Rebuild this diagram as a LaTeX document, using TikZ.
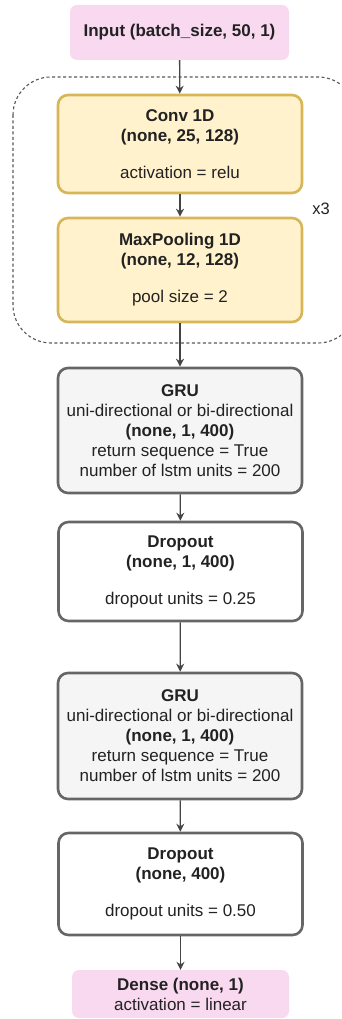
\documentclass[tikz,border=0pt]{standalone}
\usepackage{fontspec}
\setmainfont{Liberation Sans}
\usetikzlibrary{arrows.meta}
\definecolor{pinkfill}{HTML}{F9D9F0}
\definecolor{yelfill}{HTML}{FFF2CC}
\definecolor{yelline}{HTML}{D6B656}
\definecolor{greyfill}{HTML}{F5F5F5}
\definecolor{greyline}{HTML}{666666}
\definecolor{txt}{HTML}{222222}
\definecolor{arrowc}{HTML}{444444}
\tikzset{
  base/.style={rounded corners=10pt, align=center, inner sep=0pt, text=txt,
    font=\fontsize{17}{20}\selectfont},
  pinkbox/.style={base, fill=pinkfill, draw=none, rounded corners=7pt},
  yelbox/.style={base, fill=yelfill, draw=yelline, line width=2.6pt, minimum width=244pt},
  greybox/.style={base, fill=greyfill, draw=greyline, line width=2.6pt, minimum width=244pt},
  whitebox/.style={base, fill=white, draw=greyline, line width=2.6pt, minimum width=244pt},
  conn/.style={draw=arrowc, line width=1.3pt, -{Stealth[length=8pt,width=8pt]}},
  groupbox/.style={draw=arrowc!90, line width=1.1pt, dash pattern=on 3pt off 2.5pt, rounded corners=38pt}
}
\begin{document}
\begin{tikzpicture}[x=1pt,y=-1pt]
\useasboundingbox (0,0) rectangle (341,1019);
\begin{scope}
\clip (0,0) rectangle (341,1019);
\draw[groupbox] (13,77) rectangle (356,343);
\end{scope}
\node[pinkbox, minimum width=219pt, minimum height=55pt] (in) at (179.5,32.5) {\textbf{Input (batch\_size, 50, 1)}};
\node[yelbox, minimum height=98pt] (conv) at (180,144) {\textbf{Conv 1D}\\\textbf{(none, 25, 128)}\\[17pt]activation = relu};
\node[yelbox, minimum height=104pt] (pool) at (180,270) {\textbf{MaxPooling 1D}\\\textbf{(none, 12, 128)}\\[17pt]pool size = 2};
\node[text=txt, font=\fontsize{16.5}{20}\selectfont] (x3) at (321,209) {x3};
\node[greybox, minimum height=125pt] (gru1) at (180,430.5) {\textbf{GRU}\\uni-directional or bi-directional\\\textbf{(none, 1, 400)}\\return sequence = True\\number of lstm units = 200};
\node[whitebox, minimum height=99pt] (drop1) at (180.5,571.5) {\textbf{Dropout}\\\textbf{(none, 1, 400)}\\[17pt]dropout units = 0.25};
\node[greybox, minimum height=126pt] (gru2) at (180,736) {\textbf{GRU}\\uni-directional or bi-directional\\\textbf{(none, 1, 400)}\\return sequence = True\\number of lstm units = 200};
\node[whitebox, minimum height=102pt] (drop2) at (180.5,884) {\textbf{Dropout}\\\textbf{(none, 400)}\\[17pt]dropout units = 0.50};
\node[pinkbox, minimum width=217pt, minimum height=48pt] (dense) at (180.5,994) {\textbf{Dense (none, 1)}\\activation = linear};
\draw[conn] (in) -- (conv);
\draw[conn] (conv) -- (pool);
\draw[conn] (pool) -- (gru1);
\draw[conn] (gru1) -- (drop1);
\draw[conn] (drop1) -- (gru2);
\draw[conn] (gru2) -- (drop2);
\draw[conn] (drop2) -- (dense);
\end{tikzpicture}
\end{document}
